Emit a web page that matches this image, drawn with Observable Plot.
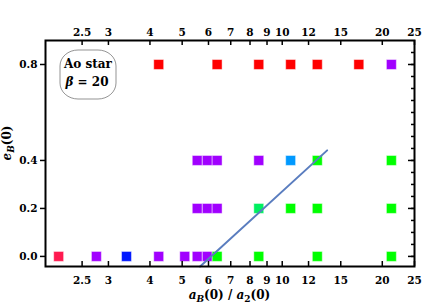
<!DOCTYPE html>
<html><head><meta charset="utf-8">
<script src="https://cdn.jsdelivr.net/npm/d3@7"></script>
<script src="https://cdn.jsdelivr.net/npm/@observablehq/plot@0.6"></script>
<style>body{margin:0;background:#fff} #chart svg{display:block} #chart svg text{font-family:"DejaVu Serif","Liberation Serif",serif !important}</style>
</head><body><div id="chart"></div>
<script>
// Tick values
const xTicks = [2.5, 3, 4, 5, 6, 7, 8, 9, 10, 12, 15, 20, 25];
const yTicks = [0, 0.2, 0.4, 0.8];
const yMinorTicks = [0, 0.05, 0.1, 0.15, 0.2, 0.25, 0.3, 0.35, 0.4, 0.45, 0.5, 0.55, 0.6, 0.65, 0.7, 0.75, 0.8, 0.85];

// Simulation grid: a_B(0)/a_2(0) per eccentricity row, with outcome colour
const ratioE08 = [4.25, 6.37, 8.5, 10.6, 12.75, 17.0, 21.3];
const colorE08 = ["#ff0000", "#ff0000", "#ff0000", "#ff0000", "#ff0000", "#ff0000", "#a100ff"];
const ratioE04 = [5.55, 5.95, 6.37, 8.5, 10.6, 12.75, 21.3];
const colorE04 = ["#a100ff", "#a100ff", "#a100ff", "#a100ff", "#0099ff", "#00ff00", "#00ff00"];
const ratioE02 = [5.55, 5.95, 6.37, 8.5, 10.6, 12.75, 21.3];
const colorE02 = ["#a100ff", "#a100ff", "#a100ff", "#00f060", "#00ff00", "#00ff00", "#00ff00"];
const ratioE00 = [2.125, 2.76, 3.4, 4.25, 5.09, 5.55, 5.95, 6.37, 8.5, 12.75, 21.3];
const colorE00 = ["#ff1a50", "#a100ff", "#0018ff", "#a100ff", "#a100ff", "#a100ff", "#a100ff", "#00ff00", "#00ff00", "#00ff00", "#00ff00"];

// Boundary line end points
const lineRatio = [5.66, 13.65];
const lineEcc = [-0.042, 0.442];

const rows = [[0.8, ratioE08, colorE08], [0.4, ratioE04, colorE04], [0.2, ratioE02, colorE02], [0.0, ratioE00, colorE00]];
const points = rows.flatMap(([e, xs, cs]) => xs.map((a, i) => ({a, e, c: cs[i]})));
const fitLine = lineRatio.map((a, i) => ({a, e: lineEcc[i]}));

const chart = Plot.plot({
  width: 436, height: 306,
  marginLeft: 45, marginRight: 22, marginTop: 40, marginBottom: 40,
  x: {type: "log", domain: [1.94, 25]},
  y: {domain: [-0.042, 0.9]},
  color: {type: "identity"},
  style: {fontFamily: "'DejaVu Serif', serif", fontWeight: "bold", fontSize: "10.5px", background: "white", color: "black"},
  marks: [
    Plot.dot(points, {x: "a", y: "e", fill: "c", symbol: "square", r: 5.6, stroke: "white", strokeOpacity: 0.45, strokeWidth: 1}),
    Plot.line(fitLine, {x: "a", y: "e", stroke: "#5a7dbf", strokeWidth: 2}),
    Plot.frame({stroke: "black", strokeWidth: 2}),
    Plot.tickX(xTicks, {x: d => d, insetTop: 221, stroke: "black", strokeWidth: 1.5}),
    Plot.tickX(xTicks, {x: d => d, insetBottom: 221, stroke: "black", strokeWidth: 1.5}),
    Plot.tickY(yMinorTicks, {y: d => d, insetLeft: 366, stroke: "black", strokeWidth: 1.5}),
    Plot.tickY(yTicks, {y: d => d, insetLeft: 363, stroke: "black", strokeWidth: 1.5}),
    Plot.axisX({anchor: "bottom", ticks: xTicks, tickSize: 0, tickPadding: 10, tickFormat: d => String(d), label: null}),
    Plot.axisX({anchor: "top", ticks: xTicks, tickSize: 0, tickPadding: 5, tickFormat: d => String(d), label: null}),
    Plot.axisY({anchor: "left", ticks: yTicks, tickSize: 5, tickPadding: 3, tickFormat: d3.format(".1f"), label: null, strokeWidth: 1.5})
  ]
});
document.getElementById("chart").append(chart);

const svg = d3.select(chart);
function richText(parent, parts, attrs) {
  const t = parent.append("text").attr("text-anchor", "middle")
    .attr("font-family", "DejaVu Serif").attr("font-weight", "bold").attr("font-size", 12).attr("fill", "black");
  for (const k in attrs) t.attr(k, attrs[k]);
  let shift = 0;
  for (const p of parts) {
    const s = t.append("tspan").text(p.t);
    if (p.i) s.attr("font-style", "italic");
    const target = p.sub ? 3 : 0;
    if (target !== shift) { s.attr("dy", target - shift); shift = target; }
    if (p.sub) s.attr("font-size", 9);
  }
  return t;
}
// axis titles
richText(svg, [{t: "a", i: 1}, {t: "B", i: 1, sub: 1}, {t: "(0) / "}, {t: "a", i: 1}, {t: "2", sub: 1}, {t: "(0)"}], {x: 229.5, y: 299});
richText(svg, [{t: "e", i: 1}, {t: "B", i: 1, sub: 1}, {t: "(0)"}], {transform: "translate(11,143) rotate(-90)"});

// annotation box
const box = svg.append("g");
box.append("rect").attr("x", 60).attr("y", 50).attr("width", 56).attr("height", 49)
  .attr("rx", 18).attr("ry", 16).attr("fill", "white").attr("stroke", "#666").attr("stroke-width", 0.7);
richText(box, [{t: "Ao star"}], {x: 88, y: 67.5});
richText(box, [{t: "β", i: 1}, {t: " = 20"}], {x: 87, y: 86});
</script>
</body></html>
